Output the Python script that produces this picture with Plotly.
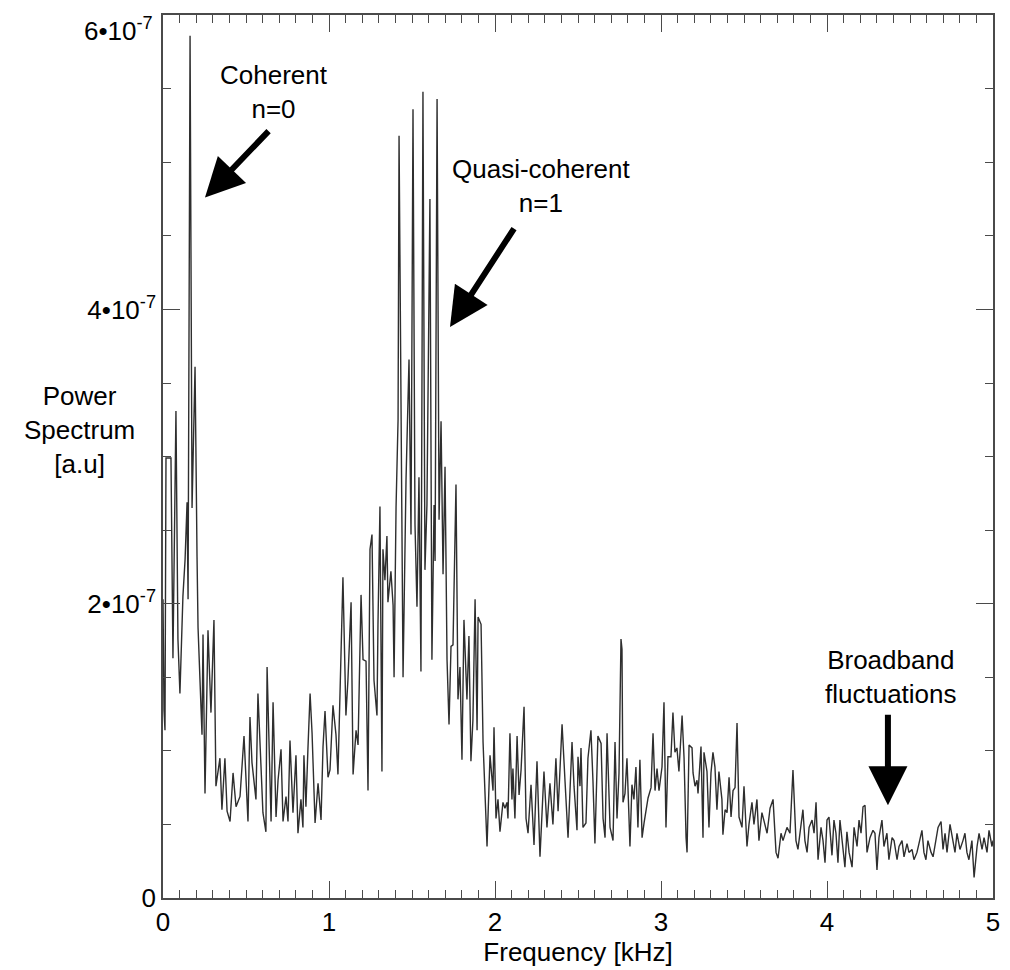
import plotly.graph_objects as go

# Power spectrum of the probe signal, frequency in kHz, power in units of 1e-7 (a.u.)
freq_khz = [
    0.000, 0.006, 0.012, 0.018, 0.048, 0.060, 0.078, 0.090, 0.102, 0.120,
    0.133, 0.145, 0.151, 0.163, 0.175, 0.193, 0.205, 0.211, 0.235, 0.241,
    0.253, 0.271, 0.289, 0.307, 0.319, 0.343, 0.355, 0.373, 0.386, 0.404,
    0.422, 0.440, 0.464, 0.488, 0.512, 0.524, 0.536, 0.560, 0.572, 0.602,
    0.620, 0.627, 0.651, 0.663, 0.681, 0.693, 0.711, 0.723, 0.741, 0.753,
    0.765, 0.783, 0.801, 0.813, 0.831, 0.843, 0.849, 0.861, 0.873, 0.886,
    0.898, 0.916, 0.934, 0.952, 0.964, 0.976, 0.994, 1.006, 1.024, 1.042,
    1.054, 1.084, 1.102, 1.114, 1.133, 1.145, 1.163, 1.175, 1.193, 1.205,
    1.223, 1.235, 1.247, 1.259, 1.271, 1.289, 1.295, 1.307, 1.319, 1.325,
    1.337, 1.349, 1.355, 1.373, 1.386, 1.392, 1.404, 1.416, 1.422, 1.434,
    1.446, 1.464, 1.482, 1.494, 1.506, 1.518, 1.530, 1.542, 1.554, 1.566,
    1.578, 1.590, 1.608, 1.620, 1.633, 1.639, 1.651, 1.663, 1.675, 1.687,
    1.699, 1.711, 1.723, 1.735, 1.747, 1.765, 1.777, 1.789, 1.801, 1.813,
    1.831, 1.843, 1.855, 1.867, 1.880, 1.892, 1.898, 1.916, 1.928, 1.952,
    1.970, 1.988, 1.994, 2.006, 2.018, 2.030, 2.048, 2.060, 2.072, 2.078,
    2.090, 2.102, 2.108, 2.120, 2.133, 2.145, 2.157, 2.175, 2.187, 2.199,
    2.217, 2.235, 2.253, 2.271, 2.295, 2.313, 2.331, 2.349, 2.367, 2.380,
    2.404, 2.422, 2.440, 2.464, 2.476, 2.494, 2.500, 2.512, 2.518, 2.530,
    2.548, 2.560, 2.578, 2.590, 2.602, 2.620, 2.639, 2.651, 2.663, 2.675,
    2.693, 2.711, 2.723, 2.735, 2.747, 2.759, 2.765, 2.771, 2.783, 2.795,
    2.813, 2.825, 2.837, 2.849, 2.861, 2.873, 2.886, 2.898, 2.916, 2.922,
    2.940, 2.952, 2.964, 2.976, 2.988, 3.006, 3.018, 3.030, 3.042, 3.060,
    3.072, 3.084, 3.096, 3.108, 3.127, 3.139, 3.151, 3.157, 3.169, 3.187,
    3.193, 3.205, 3.217, 3.223, 3.241, 3.253, 3.259, 3.277, 3.289, 3.301,
    3.313, 3.325, 3.337, 3.349, 3.367, 3.373, 3.386, 3.398, 3.410, 3.422,
    3.434, 3.446, 3.458, 3.470, 3.488, 3.500, 3.518, 3.530, 3.548, 3.560,
    3.578, 3.590, 3.608, 3.639, 3.657, 3.675, 3.693, 3.705, 3.723, 3.735,
    3.759, 3.777, 3.795, 3.813, 3.825, 3.843, 3.855, 3.867, 3.880, 3.892,
    3.910, 3.922, 3.934, 3.946, 3.964, 3.976, 3.988, 4.000, 4.012, 4.030,
    4.042, 4.054, 4.066, 4.078, 4.096, 4.108, 4.120, 4.133, 4.151, 4.163,
    4.181, 4.193, 4.205, 4.217, 4.229, 4.241, 4.259, 4.277, 4.289, 4.301,
    4.313, 4.331, 4.343, 4.361, 4.373, 4.392, 4.404, 4.422, 4.434, 4.452,
    4.464, 4.482, 4.494, 4.512, 4.524, 4.542, 4.554, 4.572, 4.584, 4.596,
    4.608, 4.627, 4.639, 4.657, 4.669, 4.687, 4.699, 4.711, 4.723, 4.741,
    4.759, 4.771, 4.783, 4.801, 4.819, 4.831, 4.843, 4.855, 4.873, 4.886,
    4.904, 4.916, 4.934, 4.946, 4.964, 4.976, 4.994, 5.000,
]

power_e7 = [
    2.03, 1.28, 1.14, 2.99, 2.99, 1.63, 3.31, 1.76, 1.39, 2.05,
    2.30, 2.69, 2.03, 5.86, 2.65, 3.61, 2.32, 1.84, 1.11, 1.79,
    0.71, 1.82, 1.26, 1.89, 0.76, 0.95, 0.60, 0.95, 0.59, 0.52,
    0.85, 0.62, 0.69, 1.10, 0.52, 1.23, 0.92, 0.67, 1.39, 0.58,
    0.45, 1.57, 0.52, 1.33, 0.55, 0.80, 1.01, 0.52, 0.69, 0.52,
    1.07, 0.58, 0.97, 0.44, 0.67, 0.48, 0.97, 0.62, 1.01, 1.39,
    1.12, 0.51, 0.78, 0.53, 1.03, 1.27, 0.82, 0.87, 1.31, 1.11,
    0.84, 2.18, 1.24, 1.48, 2.01, 0.84, 1.14, 1.04, 2.06, 1.62,
    1.61, 0.73, 2.37, 2.47, 1.48, 1.24, 1.86, 2.66, 0.86, 2.37,
    2.16, 2.46, 2.01, 2.22, 1.99, 1.50, 2.66, 3.25, 5.18, 3.03,
    1.50, 2.84, 3.66, 2.47, 5.36, 2.54, 1.98, 2.86, 1.54, 5.48,
    2.23, 2.67, 4.75, 1.62, 2.67, 2.29, 5.43, 2.57, 3.24, 2.20,
    2.93, 1.62, 1.18, 1.71, 1.72, 2.81, 1.35, 1.57, 0.94, 1.89,
    1.35, 1.78, 0.93, 1.21, 2.03, 1.14, 1.91, 1.86, 1.06, 0.35,
    0.97, 0.73, 1.16, 0.54, 0.67, 0.45, 0.65, 0.61, 0.65, 0.54,
    1.12, 0.67, 0.88, 0.54, 1.10, 0.70, 0.87, 1.30, 0.54, 0.44,
    0.77, 0.36, 0.93, 0.28, 0.86, 0.48, 0.78, 0.50, 0.95, 0.59,
    1.18, 0.79, 0.41, 1.06, 0.76, 0.46, 0.96, 0.76, 1.02, 0.48,
    0.51, 0.95, 1.14, 0.80, 0.37, 1.10, 1.05, 0.54, 0.41, 1.12,
    0.48, 0.39, 1.06, 0.54, 0.85, 1.76, 1.69, 0.65, 0.71, 0.95,
    0.35, 0.77, 0.67, 0.89, 0.48, 0.94, 0.41, 0.51, 0.65, 0.68,
    0.75, 1.12, 0.73, 0.88, 0.73, 0.89, 1.33, 0.48, 0.96, 0.96,
    1.26, 0.99, 1.02, 0.86, 1.24, 0.95, 0.41, 0.31, 1.04, 1.02,
    0.85, 0.76, 0.80, 0.71, 1.03, 0.41, 0.99, 0.86, 0.48, 0.85,
    0.99, 0.89, 0.60, 0.86, 0.67, 0.43, 0.60, 0.58, 0.82, 0.55,
    0.73, 0.75, 1.19, 0.55, 0.48, 0.76, 0.35, 0.50, 0.65, 0.50,
    0.67, 0.39, 0.58, 0.44, 0.61, 0.67, 0.31, 0.27, 0.44, 0.39,
    0.48, 0.44, 0.87, 0.39, 0.33, 0.51, 0.60, 0.39, 0.31, 0.48,
    0.53, 0.44, 0.65, 0.26, 0.48, 0.39, 0.24, 0.53, 0.55, 0.29,
    0.53, 0.44, 0.24, 0.53, 0.31, 0.21, 0.45, 0.31, 0.21, 0.48,
    0.35, 0.53, 0.44, 0.62, 0.63, 0.31, 0.41, 0.46, 0.44, 0.19,
    0.41, 0.53, 0.35, 0.44, 0.26, 0.41, 0.39, 0.26, 0.35, 0.39,
    0.28, 0.37, 0.31, 0.33, 0.26, 0.31, 0.37, 0.46, 0.31, 0.26,
    0.39, 0.31, 0.28, 0.39, 0.48, 0.52, 0.33, 0.44, 0.31, 0.50,
    0.39, 0.31, 0.44, 0.33, 0.39, 0.44, 0.31, 0.26, 0.39, 0.14,
    0.35, 0.44, 0.33, 0.41, 0.31, 0.46, 0.35, 0.39,
]

# Major y ticks; the top label is drawn just below its tick so it stays on the page
y_tick_vals = [0, 2e-7, 4e-7, 6e-7]
y_tick_text = ["0", "2•10<sup>-7</sup>", "4•10<sup>-7</sup>", ""]
y_top_label = "6•10<sup>-7</sup>"
x_tick_vals = [0, 1, 2, 3, 4, 5]
x_tick_text = ["0", "1", "2", "3", "4", "5"]

power = [p * 1e-7 for p in power_e7]

FONT = "Liberation Sans, Arial, Helvetica, sans-serif"
AXIS_COLOR = "#4a4a4a"

fig = go.Figure()
fig.add_trace(go.Scatter(
    x=freq_khz, y=power, mode="lines",
    line=dict(color="#2e2e2e", width=1.4),
    showlegend=False, hoverinfo="skip",
))

axis_common = dict(
    showline=True, linecolor=AXIS_COLOR, linewidth=1.6,
    mirror="allticks", ticks="inside", tickcolor=AXIS_COLOR,
    ticklen=17, tickwidth=1.4, showgrid=False, zeroline=False,
    ticklabeloverflow="allow", automargin=False,
    tickfont=dict(family=FONT, size=26, color="black"),
)

fig.update_xaxes(
    range=[0, 5], tickvals=x_tick_vals, ticktext=x_tick_text,
    minor=dict(dtick=0.1, ticks="inside", ticklen=8, tickcolor=AXIS_COLOR,
               tickwidth=1.2, showgrid=False),
    title=dict(text="Frequency [kHz]", font=dict(family=FONT, size=26, color="black"),
               standoff=2),
    **axis_common,
)
fig.update_yaxes(
    range=[0, 6.001e-7], tickvals=y_tick_vals, ticktext=y_tick_text,
    minor=dict(dtick=0.5e-7, tick0=0, ticks="inside", ticklen=8, tickcolor=AXIS_COLOR,
               tickwidth=1.2, showgrid=False),
    **axis_common,
)

text_font = dict(family=FONT, size=26, color="black")
arrow_style = dict(showarrow=True, arrowhead=2, arrowsize=1.3, arrowwidth=6,
                   arrowcolor="black", axref="pixel", ayref="pixel")

annotations = [
    # top y tick label
    dict(x=0, xref="paper", y=6e-7, yref="y", text=y_top_label, showarrow=False,
         xanchor="right", yanchor="top", xshift=-8, yshift=4, font=text_font),
    # labels
    dict(x=0.669, y=5.48e-7, text="Coherent<br>n=0", showarrow=False,
         xanchor="center", yanchor="middle", font=text_font),
    dict(x=2.283, y=4.84e-7, text="Quasi-coherent<br>n=1", showarrow=False,
         xanchor="center", yanchor="middle", font=text_font),
    dict(x=4.386, y=1.50e-7, text="Broadband<br>fluctuations", showarrow=False,
         xanchor="center", yanchor="middle", font=text_font),
    # y-axis title, written horizontally on three lines
    dict(x=-0.101, xref="paper", y=3.18e-7, yref="y",
         text="Power<br>Spectrum<br>[a.u]", showarrow=False,
         xanchor="center", yanchor="middle", font=text_font),
    # arrows
    dict(x=0.253, y=4.76e-7, ax=65, ay=-68, text="", **arrow_style),
    dict(x=1.729, y=3.88e-7, ax=65, ay=-100, text="", **arrow_style),
    dict(x=4.367, y=0.63e-7, ax=0, ay=-92, text="", **arrow_style),
]

fig.update_layout(
    width=1010, height=970,
    margin=dict(l=163, r=17, t=15, b=72, autoexpand=False),
    paper_bgcolor="white", plot_bgcolor="white",
    font=dict(family=FONT, size=26, color="black"),
    annotations=annotations,
)

fig.write_html("out.html")
